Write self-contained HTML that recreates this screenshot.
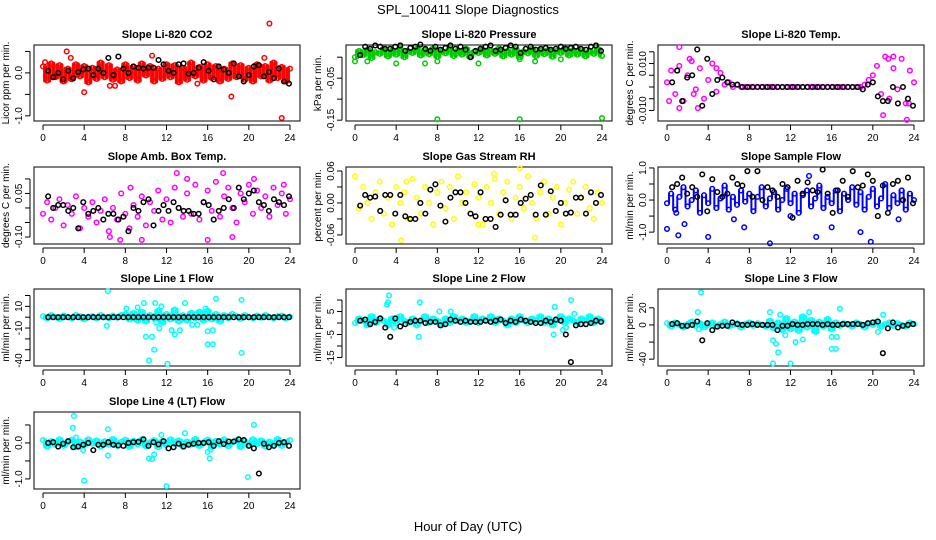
<!DOCTYPE html>
<html><head><meta charset="utf-8"><style>
html,body{margin:0;padding:0;background:#fff;}
svg{display:block;font-family:"Liberation Sans",Arial,sans-serif;}
</style></head><body>
<svg id="chart" width="936" height="540" viewBox="0 0 936 540" xmlns="http://www.w3.org/2000/svg">
<text x="468" y="14" text-anchor="middle" font-size="13">SPL_100411  Slope Diagnostics</text>
<text x="468" y="531" text-anchor="middle" font-size="13">Hour of Day (UTC)</text>
</svg>
<script>
const hourTicks=[0,4,8,12,16,20,24];
const titles=["Slope Li-820 CO2","Slope Li-820 Pressure","Slope Li-820 Temp.","Slope Amb. Box Temp.","Slope Gas Stream RH","Slope Sample Flow","Slope Line 1 Flow","Slope Line 2 Flow","Slope Line 3 Flow","Slope Line 4 (LT) Flow"];
const yTitles=["Licor ppm per min.","kPa per min.","degrees C per min.","degrees C per min.","percent per min.","ml/min per min.","ml/min per min.","ml/min per min.","ml/min per min.","ml/min per min."];
const colors=["#ff0000","#00cc00","#ff00ff","#ff00ff","#ffff00","#0000ff","#00ffff","#00ffff","#00ffff","#00ffff"];
const yTickVals=[[-1,-0.5,0,0.5],[-0.15,-0.1,-0.05,0],[-0.01,-0.005,0,0.005,0.01,0.015],[-0.1,-0.05,0,0.05,0.1],[-0.06,-0.03,0,0.03,0.06],[-1,-0.5,0,0.5,1],[-40,-30,-20,-10,0,10,20],[-15,-10,-5,0,5,10],[-40,-20,0,20],[-1,-0.5,0,0.5]];
const yTickLabels=[["-1.0","","0.0",""],["-0.15","","-0.05",""],["-0.010","","","","0.010",""],["-0.10","","","0.05",""],["-0.06","","0.00","","0.06"],["-1.0","","0.0","","1.0"],["-40","","","-10","","10",""],["-15","","-5","","5",""],["-40","","0","20"],["-1.0","","0.0",""]];
const yLims=[[-1.12,0.65],[-0.152,0.029],[-0.0145,0.0179],[-0.124,0.141],[-0.077,0.0675],[-1.37,1.03],[-45,26],[-18.7,14.8],[-48,42],[-1.28,0.86]];
const band=[
[0.15,-0.18,0.22,-0.1,0.18,-0.2,0.1,-0.15,0.2,-0.08,0.16,-0.22,0.12,-0.14,0.24,-0.1,0.18,-0.16,0.08,-0.2,0.2,-0.12,0.14,-0.18,0.22,-0.06,0.16,-0.2,0.1,-0.14,0.2,-0.1,0.18,-0.22,0.12,-0.16,0.24,-0.08,0.14,-0.18,0.2,-0.12,0.16,-0.2,0.1,-0.14,0.22,-0.1,0.18,-0.16,0.12,-0.2,0.2,-0.08,0.16,-0.18,0.24,-0.12,0.14,-0.2,0.1],
[0.0,0.015,0.005,0.018,-0.002,0.012,0.008,0.02,0.002,0.016,0.006,0.019,0.0,0.014,0.01,0.02,0.004,0.017,0.007,0.021,0.001,0.015,0.009,0.019,0.003,0.016,0.006,0.02,0.0,0.013,0.01,0.018,0.004,0.017,0.008,0.021,0.002,0.015,0.006,0.019,0.0,0.014,0.009,0.02,0.003,0.016,0.007,0.018,0.001,0.015,0.01,0.021,0.004,0.017,0.006,0.019,0.002,0.014,0.008,0.02,0.003],
[0.002,0.007,-0.003,0.009,-0.006,0.005,0.011,-0.001,0.008,-0.005,0.003,0.01,-0.002,0.006,0.001,0.002,0.0,0.001,0,0,0,0,0,0,0,0,0,0,0,0,0,0,0,0,0,0,0,0,0,0,0,0,0,0,0,0,0,0,0.001,0.003,0.005,0.009,-0.003,0.013,-0.005,0.008,-0.001,0.012,-0.007,0.007,0.002],
[-0.02,0.02,-0.04,0.0,0.03,-0.06,0.01,-0.02,0.04,-0.07,0.0,-0.03,0.02,-0.05,-0.01,0.03,-0.08,0.0,-0.04,0.05,-0.02,-0.07,0.01,-0.03,0.04,-0.06,0.02,-0.01,0.06,-0.04,0.03,-0.05,0.07,0.0,-0.03,0.05,-0.02,0.08,-0.04,0.02,0.06,-0.01,0.09,-0.03,0.04,0.07,0.0,-0.05,0.05,0.02,0.08,-0.02,0.06,0.0,0.04,-0.03,0.07,0.01,0.05,-0.02,0.03],
[0.05,-0.01,0.03,0.0,-0.03,0.02,0.04,-0.02,0.01,-0.04,0.03,0.0,0.02,-0.03,0.045,0.01,-0.02,0.03,0.0,-0.04,0.02,0.04,-0.01,0.03,-0.03,0.05,0.0,0.02,-0.02,0.035,0.01,-0.04,0.03,0.0,0.045,-0.02,0.02,0.04,-0.03,0.01,0.03,-0.01,0.05,0.0,-0.03,0.02,0.04,-0.02,0.01,0.03,-0.04,0.0,0.025,0.04,-0.02,0.01,0.03,-0.01,-0.03,0.02,0.0],
[-0.1,0.2,-0.3,0.1,0.4,-0.2,0.0,0.3,-0.4,0.15,-0.1,0.35,-0.25,0.05,0.45,-0.3,0.1,-0.15,0.3,-0.05,0.2,-0.35,0.1,0.4,-0.2,0.05,0.25,-0.3,0.0,0.35,-0.1,0.2,-0.4,0.15,0.3,-0.2,0.05,0.45,-0.25,0.1,-0.1,0.3,-0.35,0.2,0.0,0.4,-0.15,0.25,-0.3,0.1,0.35,-0.2,0.05,0.5,-0.25,0.15,-0.1,0.3,-0.3,0.2,0.0],
[1,-1,2,0,-1.5,1.5,0,-1,2,1,-2,0.5,1,-1,2,0,-1,1.5,-0.5,2,3,-2,4,-3,5,-4,2,-1,6,-5,3,-2,7,-4,2,-3,4,-1,5,-3,6,-2,3,-4,2,-1,3,1,-1.5,2,0,-1,1.5,-0.5,2,0,-1,1,1.5,-1,0.5],
[0,2,1,-1,3,0,2,1,-1,2,0,3,1,0,2,-1,1,3,0,2,1,-1,2,0,3,1,2,0,1,3,0,2,1,3,0,2,1,-1,2,0,3,1,0,2,1,3,0,2,-1,1,3,0,2,1,0,2,1,3,0,2,1],
[2,-2,3,0,-3,1,4,-1,2,-3,0,3,-2,1,4,-2,0,2,-3,1,3,-1,2,0,-2,5,-4,3,-6,8,-5,4,-7,10,-3,6,-8,4,-2,7,-5,3,-1,2,0,-2,3,1,-3,2,0,4,-2,1,3,-1,2,0,-2,3,1],
[0.08,-0.1,0.05,-0.05,0.1,-0.08,0.02,0.09,-0.12,0.04,-0.06,0.1,-0.02,0.07,-0.1,0.05,-0.05,0.11,-0.08,0.03,0.09,-0.11,0.06,-0.04,0.1,-0.09,0.02,0.08,-0.12,0.05,-0.06,0.1,-0.03,0.07,-0.1,0.04,-0.05,0.11,-0.08,0.02,0.09,-0.11,0.06,-0.04,0.1,-0.09,0.02,0.08,-0.12,0.05,-0.06,0.1,-0.03,0.07,-0.1,0.04,-0.05,0.11,-0.08,0.02,0.08]];
const outliers=[
[[0.2,0.25],[2.3,0.5],[2.7,0.35],[4.0,-0.45],[6.5,-0.3],[10.6,0.4],[18.3,-0.55],[21.5,0.35],[22,1.15],[23.2,-1.05],[7,-0.3],[15,-0.25]],
[[0,-0.01],[1.2,-0.01],[4,-0.015],[6.8,-0.015],[8,-0.148],[8,-0.01],[12,-0.015],[16,-0.148],[16,-0.005],[17.5,-0.01],[24,-0.145],[20,-0.005]],
[[1.2,0.017],[0.2,-0.006],[1.2,-0.009],[2.2,0.012],[3,-0.009],[2.6,-0.003],[21,-0.012],[21.5,0.012],[22,0.013],[23.3,-0.014],[23.5,-0.007],[4.8,0.008],[1,0.007]],
[[7.5,-0.11],[9.6,-0.11],[13,0.12],[16,-0.11],[17.5,0.12],[18.4,-0.1],[20.5,0.1],[8.5,0.07],[14,0.1],[23.4,0.08],[6.5,-0.1]],
[[4.5,-0.07],[16,0.065],[13.5,0.055],[17.5,-0.065],[12,-0.04],[5,0.04]],
[[0,-0.9],[1.1,-1.1],[1.7,-0.75],[4,-1.15],[7.5,-0.85],[10,-1.35],[12,-0.5],[14.5,-1.15],[18.8,-1.0],[19.8,-1.3],[16,-0.85],[13.8,0.75],[0.9,-0.4],[6.5,-0.6],[22.5,-0.6]],
[[6.3,24],[6.2,-8],[8.1,8],[9.2,9],[9.8,13],[10,-18],[10.3,-40],[10.6,-18],[10.8,-30],[10.9,13],[11,-5],[11.3,-10],[11.5,10],[12.1,-43],[12.5,-12],[12.8,-16],[13.3,-12],[13.8,13],[15.8,8],[16,-13],[16,-25],[16.5,-25],[16.5,-12],[16.8,17],[19.3,-33],[19.3,16],[14.5,-7],[15,-7]],
[[3.3,12],[3.1,8],[3.2,9],[6.3,9],[6.2,-6],[8.2,5],[9.3,5],[3.8,-2],[19.3,-5],[19.4,7],[21,10],[21.3,4],[20.5,-2],[20.2,-3]],
[[3.3,38],[3,15],[3.1,-5],[10,15],[10.3,-45],[10.3,-18],[10.6,-22],[10.8,-32],[11,12],[11.5,-12],[12,-45],[12.5,-20],[13.2,-17],[13.8,15],[16,-28],[16.4,-28],[16,-14],[16.5,-14],[16.8,19],[21,12],[20.5,-8],[14.5,-8]],
[[3,0.75],[2.9,0.42],[3.2,0.15],[3.9,-0.2],[4,-1.05],[6.3,0.38],[6.3,-0.35],[10.3,-0.43],[10.6,-0.45],[10.8,-0.32],[12,-1.2],[13.8,0.27],[16.2,-0.43],[16.3,-0.18],[19.9,-0.95],[20.5,0.5],[11.5,0.22],[16,-0.25]]];
const blackVals=[
[0.05,-0.1,0.0,-0.15,0.05,-0.12,0.02,0.08,0.1,-0.05,0.1,0.0,0.35,-0.05,0.38,0.1,0.0,0.15,0.12,0.1,0.12,0.12,0.3,0.2,0.05,0.0,0.2,0.22,-0.02,0.0,0.12,0.25,0.05,-0.15,0.15,0.08,0.0,0.22,-0.08,-0.2,-0.05,0.15,0.18,-0.08,0.02,-0.12,0.1,-0.2,-0.25],
[0.005,0.025,0.02,0.028,0.025,0.02,0.02,0.025,0.028,0.015,0.022,0.025,0.03,0.02,0.015,0.025,0.018,0.022,0.028,0.02,0.025,0.018,0.0,0.015,0.02,0.025,0.028,0.015,0.018,0.022,0.028,0.025,0.01,0.02,0.025,0.018,0.02,0.022,0.018,0.02,0.025,0.02,0.022,0.025,0.02,0.018,0.025,0.028,0.015],
[0.002,0.007,-0.006,0.004,0.005,0.016,-0.008,0.012,-0.003,0.003,0.004,0.002,0.001,0.001,0,0,0,0,0,0,0,0,0,0,0,0,0,0,0,0,0,0,0,0,0,0,0,0,-0.001,0.001,0.002,-0.004,-0.006,-0.006,0.0,-0.007,0.0,-0.005,-0.008],
[0.04,0.0,0.01,0.01,-0.01,0.0,-0.07,0.02,-0.02,-0.01,0.0,-0.04,-0.02,-0.02,-0.04,-0.03,-0.08,0.0,-0.01,0.02,0.03,-0.06,-0.01,0.01,-0.01,0.02,0.0,-0.01,-0.01,-0.02,-0.02,0.02,0.01,-0.04,-0.01,0.0,0.03,0.0,0.07,0.03,0.05,0.06,0.02,0.01,-0.01,0.03,0.02,0.01,0.04],
[-0.005,0.015,0.01,0.012,-0.015,0.015,0.015,-0.02,0.015,-0.025,-0.03,-0.03,0.0,-0.02,0.025,0.035,-0.005,-0.035,0.01,0.02,0.02,0.0,-0.02,-0.025,0.02,-0.03,-0.03,-0.045,-0.022,0.005,-0.022,-0.022,0.0,0.008,0.015,-0.022,0.033,-0.022,0.022,-0.015,0.0,-0.02,-0.018,0.01,0.01,-0.02,0.02,0.0,0.015],
[0.4,0.5,0.7,0.2,0.4,0.1,0.8,-0.35,0.65,0.25,0.1,0.2,0.7,0.5,0.45,0.9,0.1,0.9,0.0,0.4,0.3,0.1,0.5,0.4,-0.55,0.6,0.2,0.55,0.3,0.25,0.95,0.2,-0.4,0.3,0.6,0.1,0.9,0.4,0.45,0.8,0.6,-0.5,0.45,-0.4,0.5,0.6,0.0,0.7,-0.1],
[0,0,0,0,0,0,0,0,0,0,0,0,0,0,0,0,0,0,0,0,0,0,0,0,0,0,0,0,0,0,0,0,0,0,0,0,0,0,0,0,0,0,0,0,0,0,0,0,0],
[1,1.5,-0.5,0.5,2,-2,-6,2,-1.5,-0.5,0.5,1,1,0,0.5,0.5,-1,-0.5,1.5,1,0.5,1,0.5,0.5,0.5,1,0.5,1,1.5,0,1,0.5,1.5,1,0.5,0,0,1,0.5,1.5,1,-5,-17,-1,-0.5,-0.5,0,1,0.5],
[1,2,-1,-1,0,4,-18,2,-6,-2,-1,-1,3,1,0,0,1,0,0,0,0,-6,-1,-1,1,0,0,1,1,1,0,1,0,0,1,1,1,1,0,2,3,4,-33,-4,3,-3,-1,0,1],
[0.0,0.02,-0.1,-0.02,0.05,-0.12,-0.1,-0.05,0.0,-0.2,-0.05,-0.05,0.02,-0.05,-0.07,-0.08,0.0,0.02,0.03,0.1,-0.08,0.02,-0.04,0.05,-0.15,-0.12,-0.02,-0.1,-0.05,-0.02,0.0,0.0,0.02,-0.08,0.05,-0.03,0.04,0.04,0.1,0.08,-0.08,-0.15,-0.85,-0.02,-0.12,-0.08,0.0,0.02,-0.08]];

const NS="http://www.w3.org/2000/svg";
const svg=document.getElementById('chart');
const colX=[[34,300],[346,612],[658,924]];
const rowY=[[45,121],[167,244],[289,366],[412,489]];
const denseStyle=[4,4,0,0,0,2,4,4,4,4]; // band fill stroke widths (style)
function mk(tag,attrs,parent){const e=document.createElementNS(NS,tag);for(const k in attrs)e.setAttribute(k,attrs[k]);(parent||svg).appendChild(e);return e;}
titles.forEach((t,p)=>{
  const c=p%3,r=Math.floor(p/3);
  const [x0,x1]=colX[c],[y0,y1]=rowY[r];
  const g=mk('g',{});
  
  
  const xa=x0+9,xb=x1-10;
  const xS=h=>xa+h*(xb-xa)/24;
  const [lo,hi]=yLims[p];
  const yS=v=>y1-(v-lo)*(y1-y0)/(hi-lo);
  const tt=mk('text',{x:(x0+x1)/2,y:y0-7,'text-anchor':'middle','font-size':'11','font-weight':'bold'},g);
  tt.textContent=t;
  
  
  const yt=mk('text',{transform:`translate(${x0-25},${(y0+y1)/2}) rotate(-90)`,'text-anchor':'middle','font-size':'10'},g);
  yt.textContent=yTitles[p];
  
  
  mk('line',{x1:xS(0),x2:xS(24),y1:y1+4,y2:y1+4,stroke:'#000','stroke-width':1},g);
  hourTicks.forEach(h=>{
    mk('line',{x1:xS(h),x2:xS(h),y1:y1+4,y2:y1+9,stroke:'#000','stroke-width':1},g);
    const tl=mk('text',{x:xS(h),y:y1+20,'text-anchor':'middle','font-size':'10'},g);
    tl.textContent=h;
    
    
  });
  const tv=yTickVals[p];
  mk('line',{x1:x0-4,x2:x0-4,y1:yS(tv[0]),y2:yS(tv[tv.length-1]),stroke:'#000','stroke-width':1},g);
  tv.forEach((v,i)=>{
    mk('line',{x1:x0-9,x2:x0-4,y1:yS(v),y2:yS(v),stroke:'#000','stroke-width':1},g);
    if(yTickLabels[p][i]){
      const l=mk('text',{transform:`translate(${x0-12},${yS(v)}) rotate(-90)`,'text-anchor':'middle','font-size':'10'},g);
      l.textContent=yTickLabels[p][i];
      
      
    }
  });
  const box=mk('rect',{x:x0,y:y0,width:x1-x0,height:y1-y0,fill:'none',stroke:'#000','stroke-width':1},g);
  
  
  const b=band[p];
  if(denseStyle[p]>0){
    const fill=mk('g',{stroke:colors[p],'stroke-width':denseStyle[p],'stroke-linecap':'round'},g);
    
    
    for(let i=0;i<b.length-1;i++){
      const xm=xS((i+0.5)*24/(b.length-1));
      const s=mk('line',{x1:xm,x2:xm,y1:yS(b[i]),y2:yS(b[i+1])},fill);
      
      
    }
  }
  const pts=mk('g',{fill:'none',stroke:colors[p],'stroke-width':1.5},g);
  
  
  b.forEach((v,i)=>{
    const cc=mk('circle',{cx:xS(i*24/(b.length-1)),cy:yS(v),r:2.3},pts);
    
    
  });
  outliers[p].forEach(([h,v])=>{
    const cc=mk('circle',{cx:xS(h),cy:yS(v),r:2.3},pts);
    
    
  });
  const bk=mk('g',{fill:'none',stroke:'#000','stroke-width':1.5},g);
  
  
  const bv=blackVals[p];
  bv.forEach((v,i)=>{
    const cc=mk('circle',{cx:xS(0.5+i*23.4/(bv.length-1)),cy:yS(v),r:2.3},bk);
    
    
  });
});
</script>
</body></html>
